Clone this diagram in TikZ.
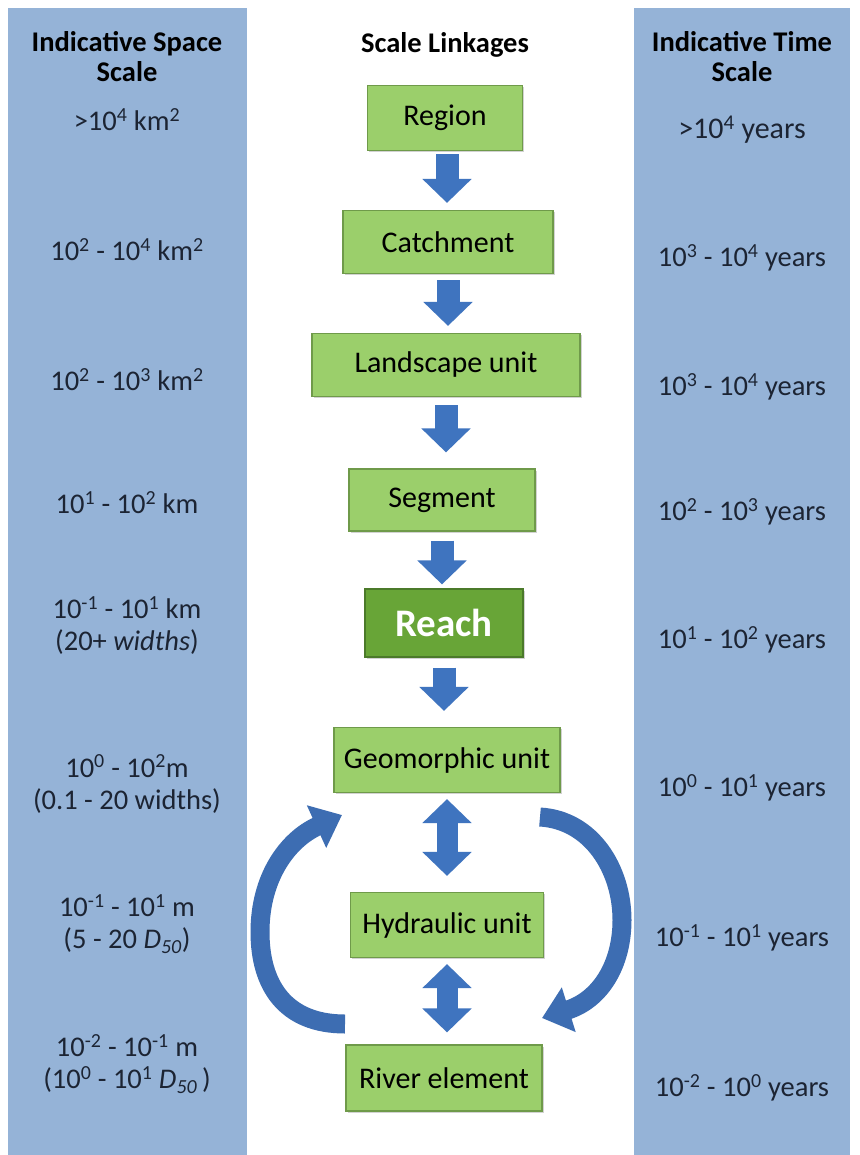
\documentclass[tikz,border=0pt]{standalone}
\usepackage{fontspec}
\setmainfont{Carlito}
\usetikzlibrary{arrows.meta,shadows}
\definecolor{panel}{HTML}{95B3D7}
\definecolor{boxfill}{HTML}{9BCF6B}
\definecolor{boxedge}{HTML}{6F9A4A}
\definecolor{reachfill}{HTML}{68A537}
\definecolor{reachedge}{HTML}{4B7A2A}
\definecolor{arrowblue}{HTML}{3F74BF}
\definecolor{curveblue}{HTML}{3D6DB2}
\definecolor{txt}{HTML}{1C2433}
\begin{document}
\begin{tikzpicture}[x=1pt,y=-1pt,
  box/.style={draw=boxedge, line width=1.2pt, fill=boxfill,
    drop shadow={shadow xshift=1.5pt, shadow yshift=-1.5pt, opacity=0.35},
    font=\fontsize{30}{34}\selectfont, text=black, inner sep=0pt},
  reachbox/.style={box, draw=reachedge, fill=reachfill, text=white,
    font=\fontsize{39}{42}\selectfont\bfseries},
  ptxt/.style={font=\fontsize{28.5}{32}\selectfont, align=center, text=txt},
  title/.style={font=\fontsize{28.5}{30}\selectfont\bfseries, align=center, text=black},
  downarrow/.style={draw=arrowblue, line width=23pt, -{Triangle[length=24pt,width=48pt]}},
  duparrow/.style={draw=arrowblue, line width=21pt, {Triangle[length=24pt,width=48pt]}-{Triangle[length=24pt,width=48pt]}},
  curvearrow/.style={draw=curveblue, line width=19pt, -{Triangle[length=28pt,width=45pt]}}
]
\useasboundingbox (0,0) rectangle (859,1155);
\fill[white] (0,0) rectangle (859,1155);
% panels
\fill[panel] (8,8) rectangle (247,1155);
\fill[panel] (634,8) rectangle (850,1155);

% titles
\node[title] (tspace) at (127,57) {Indicative Space\\Scale};
\node[title] (tlink) at (445,45) {Scale Linkages};
\node[title] (ttime) at (742,57) {Indicative Time\\Scale};

% left panel texts
\node[ptxt] (s1) at (127,120) {>10\textsuperscript{4} km\textsuperscript{2}};
\node[ptxt] (s2) at (127,250) {10\textsuperscript{2} - 10\textsuperscript{4} km\textsuperscript{2}};
\node[ptxt] (s3) at (127,380) {10\textsuperscript{2} - 10\textsuperscript{3} km\textsuperscript{2}};
\node[ptxt] (s4) at (127,503) {10\textsuperscript{1} - 10\textsuperscript{2} km};
\node[ptxt] (s5) at (127,626) {10\textsuperscript{-1} - 10\textsuperscript{1} km\\(20+ \textit{widths})};
\node[ptxt] (s6) at (127,784) {10\textsuperscript{0} - 10\textsuperscript{2}m\\(0.1 - 20 widths)};
\node[ptxt] (s7) at (127,924) {10\textsuperscript{-1} - 10\textsuperscript{1} m\\(5 - 20 \textit{D}\textsubscript{\textit{50}})};
\node[ptxt] (s8) at (127,1064) {10\textsuperscript{-2} - 10\textsuperscript{-1} m\\(10\textsuperscript{0} - 10\textsuperscript{1} \textit{D}\textsubscript{\textit{50}}\,)};

% right panel texts
\node[ptxt, font=\fontsize{30}{32}\selectfont] (y1) at (742,130) {>10\textsuperscript{4} years};
\node[ptxt] (y2) at (742,258) {10\textsuperscript{3} - 10\textsuperscript{4} years};
\node[ptxt] (y3) at (742,387) {10\textsuperscript{3} - 10\textsuperscript{4} years};
\node[ptxt] (y4) at (742,512) {10\textsuperscript{2} - 10\textsuperscript{3} years};
\node[ptxt] (y5) at (742,640) {10\textsuperscript{1} - 10\textsuperscript{2} years};
\node[ptxt] (y6) at (742,788) {10\textsuperscript{0} - 10\textsuperscript{1} years};
\node[ptxt] (y7) at (742,938) {10\textsuperscript{-1} - 10\textsuperscript{1} years};
\node[ptxt] (y8) at (742,1088) {10\textsuperscript{-2} - 10\textsuperscript{0} years};

% boxes
\node[box, minimum width=155pt, minimum height=65pt] (region) at (445,118) {Region};
\node[box, minimum width=210pt, minimum height=63pt] (catch) at (448,242) {Catchment};
\node[box, minimum width=268pt, minimum height=63pt] (land) at (446,365) {Landscape unit};
\node[box, minimum width=186pt, minimum height=62pt] (seg) at (442,500) {Segment};
\node[reachbox, minimum width=158pt, minimum height=68pt] (reach) at (444,623) {Reach};
\node[box, minimum width=226pt, minimum height=65pt] (geo) at (447,760) {Geomorphic unit};
\node[box, minimum width=193pt, minimum height=65pt] (hyd) at (447,925) {Hydraulic unit};
\node[box, minimum width=196pt, minimum height=66pt] (river) at (444,1078) {River element};

% straight arrows
\draw[downarrow] ([xshift=2pt,yshift=-3pt]region.south) -- ([xshift=2pt,yshift=7pt]region.south |- catch.north);
\draw[downarrow] ([yshift=-6pt]catch.south) -- ([yshift=7pt]catch.south |- land.north);
\draw[downarrow] ([yshift=-8pt]land.south) -- ([yshift=16pt]land.south |- seg.north);
\draw[downarrow] ([yshift=-9pt]seg.south) -- ([yshift=4pt]seg.south |- reach.north);
\draw[downarrow] ([yshift=-10pt]reach.south) -- ([yshift=16pt]reach.south |- geo.north);
\draw[duparrow] ([yshift=-6pt]geo.south) -- ([yshift=16pt]geo.south |- hyd.north);
\draw[duparrow] ([yshift=-6pt]hyd.south) -- ([yshift=12pt]hyd.south |- river.north);

% curved feedback arrows
\coordinate (ltail) at (345,1024);
\coordinate (lhead) at (342,815);
\coordinate (rtail) at (540,817);
\coordinate (rhead) at (542,1018);
\draw[curvearrow] (ltail) .. controls (285,1024) and (260,985) .. (260,932)
  .. controls (260,878) and (287,840) .. (lhead);
\draw[curvearrow] (rtail) .. controls (592,820) and (622,870) .. (622,920)
  .. controls (622,965) and (600,1000) .. (rhead);
\end{tikzpicture}
\end{document}
